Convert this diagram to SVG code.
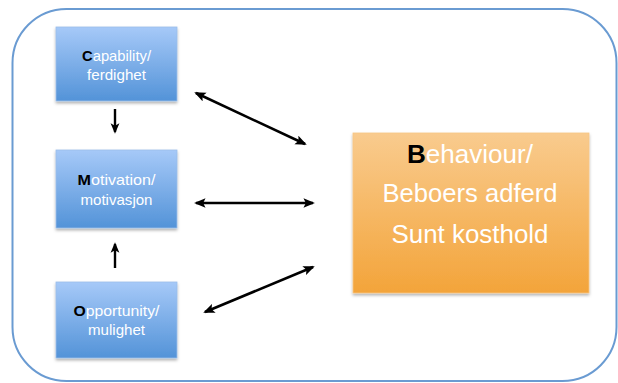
<svg xmlns="http://www.w3.org/2000/svg" width="618" height="383" viewBox="0 0 618 383">
  <defs>
    <linearGradient id="blueFill" x1="0" y1="0" x2="0" y2="1">
      <stop offset="0" stop-color="#a6c9f8"/>
      <stop offset="1" stop-color="#5393d8"/>
    </linearGradient>
    <linearGradient id="orangeFill" x1="0" y1="0" x2="0" y2="1">
      <stop offset="0" stop-color="#f9cb8e"/>
      <stop offset="1" stop-color="#f3a43a"/>
    </linearGradient>
    <filter id="shadow" x="-10%" y="-10%" width="125%" height="130%">
      <feDropShadow dx="0" dy="2" stdDeviation="1.5" flood-color="#000" flood-opacity="0.3"/>
    </filter>
    <marker id="head" viewBox="0 0 12 10" refX="10" refY="5" markerWidth="4.4" markerHeight="3.8" orient="auto-start-reverse" markerUnits="strokeWidth">
      <path d="M0,0 L12,5 L0,10 L2.5,5 Z" fill="#000"/>
    </marker>
    <marker id="headSmall" viewBox="0 0 12 10" refX="10" refY="5" markerWidth="4.4" markerHeight="4" orient="auto-start-reverse" markerUnits="strokeWidth">
      <path d="M0,0 L12,5 L0,10 L3,5 Z" fill="#000"/>
    </marker>
  </defs>
  <style>
    .box-blue { fill: url(#blueFill); stroke: #9cbde8; stroke-width: 0.8; filter: url(#shadow); }
    .box-orange { fill: url(#orangeFill); stroke: #f7c684; stroke-width: 0.8; filter: url(#shadow); }
    .small { font-family: "Liberation Sans", Arial, sans-serif; font-size: 14.5px; fill: #fff; text-anchor: middle; }
    .big { font-family: "Liberation Sans", Arial, sans-serif; font-size: 25px; fill: #fff; text-anchor: middle; }
    .initial { fill: #000; font-weight: bold; }
    .link { stroke: #000; stroke-width: 2.6; fill: none; marker-start: url(#head); marker-end: url(#head); }
    .step { stroke: #000; stroke-width: 2.4; fill: none; marker-end: url(#headSmall); }
  </style>

  <rect x="12.5" y="9" width="604" height="372" rx="54" ry="54" fill="#fff" stroke="#6a9bd2" stroke-width="2"/>

  <g id="capability">
    <rect class="box-blue" x="56" y="27" width="121" height="74"/>
    <text class="small" x="116.5" y="61" textLength="69" lengthAdjust="spacingAndGlyphs"><tspan class="initial">C</tspan>apability/</text>
    <text class="small" x="116.5" y="80" textLength="59" lengthAdjust="spacingAndGlyphs">ferdighet</text>
  </g>

  <g id="motivation">
    <rect class="box-blue" x="56" y="150" width="121" height="78"/>
    <text class="small" x="116.5" y="185" textLength="78" lengthAdjust="spacingAndGlyphs"><tspan class="initial">M</tspan>otivation/</text>
    <text class="small" x="116.5" y="205" textLength="72" lengthAdjust="spacingAndGlyphs">motivasjon</text>
  </g>

  <g id="opportunity">
    <rect class="box-blue" x="56" y="282" width="121" height="76"/>
    <text class="small" x="116.5" y="316" textLength="86" lengthAdjust="spacingAndGlyphs"><tspan class="initial">O</tspan>pportunity/</text>
    <text class="small" x="116.5" y="335" textLength="57" lengthAdjust="spacingAndGlyphs">mulighet</text>
  </g>

  <g id="behaviour">
    <rect class="box-orange" x="353" y="133" width="236" height="160"/>
    <text class="big" x="470" y="163" textLength="126" lengthAdjust="spacingAndGlyphs"><tspan class="initial">B</tspan>ehaviour/</text>
    <text class="big" x="470" y="202" textLength="175" lengthAdjust="spacingAndGlyphs">Beboers adferd</text>
    <text class="big" x="470" y="243" textLength="157" lengthAdjust="spacingAndGlyphs">Sunt kosthold</text>
  </g>

  <g id="connectors">
    <line class="step" x1="115" y1="109" x2="115" y2="132"/>
    <line class="step" x1="115" y1="268" x2="115" y2="244"/>
    <line class="link" x1="196" y1="93" x2="305" y2="144"/>
    <line class="link" x1="196" y1="203" x2="313" y2="203"/>
    <line class="link" x1="205" y1="312" x2="313" y2="267"/>
  </g>
</svg>
